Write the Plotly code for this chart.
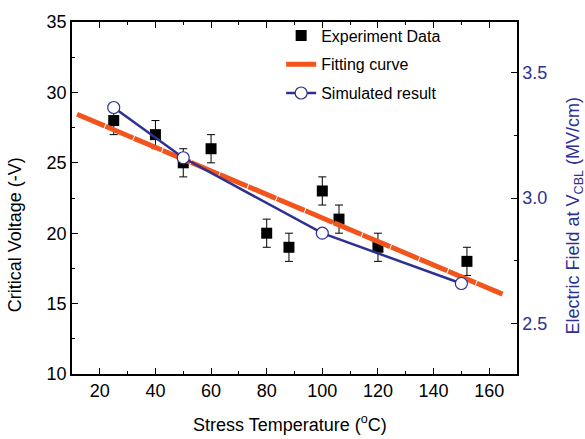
import plotly.graph_objects as go

# experiment data (critical voltage, -V)
exp_temp = [25, 40, 50, 60, 80, 88, 100, 106, 120, 152]
exp_volt = [28, 27, 25, 26, 20, 19, 23, 21, 19, 18]
exp_err = [1, 1, 1, 1, 1, 1, 1, 1, 1, 1]

# fitting curve end points
fit_temp = [11.8, 164.8]
fit_volt = [28.45, 15.67]

# simulated electric field (MV/cm)
sim_temp = [25, 50, 100, 150]
sim_field = [3.36, 3.16, 2.86, 2.66]

orange = "#F2541B"
navy = "#2E3192"
font = "Arial, Liberation Sans, sans-serif"

fig = go.Figure()

fig.add_trace(go.Scatter(x=exp_temp, y=exp_volt, mode="markers", name="Experiment Data",
                         legendgroup="a",
                         marker=dict(symbol="square", size=11, color="black"),
                         error_y=dict(type="data", array=exp_err, color="black",
                                      thickness=1, width=4)))

fig.add_trace(go.Scatter(x=fit_temp, y=fit_volt, mode="lines", name="Fitting curve",
                         legendgroup="b",
                         line=dict(color=orange, width=5, dash="30px,1px")))

fig.add_trace(go.Scatter(x=sim_temp, y=sim_field, mode="lines+markers", name="Simulated result",
                         yaxis="y2", legendgroup="c",
                         line=dict(color=navy, width=2.5),
                         marker=dict(symbol="circle", size=12, color="white",
                                     line=dict(color=navy, width=1.2))))

axis_common = dict(showline=True, linecolor="black", linewidth=1.5, ticks="inside",
                   ticklen=6, tickcolor="black", showgrid=False, zeroline=False)

fig.update_layout(
    width=585, height=439,
    margin=dict(l=72, r=68, t=14, b=65),
    paper_bgcolor="white", plot_bgcolor="white",
    font=dict(family=font, size=18, color="black"),
    showlegend=True,
    legend=dict(x=0.47, y=1.01, xanchor="left", yanchor="top",
                bgcolor="rgba(0,0,0,0)", font=dict(size=16), tracegroupgap=5),
    xaxis=dict(range=[10, 170], dtick=20, tick0=0, mirror="ticks",
               minor=dict(dtick=10, ticks="inside", ticklen=3, tickcolor="black"),
               **axis_common),
    yaxis=dict(range=[10, 35], dtick=5, tick0=0, mirror=False,
               minor=dict(dtick=2.5, ticks="inside", ticklen=3, tickcolor="black"),
               **axis_common),
    yaxis2=dict(range=[2.3, 3.7], dtick=0.5, tick0=0, overlaying="y", side="right",
                tickformat=".1f", tickfont=dict(color=navy),
                minor=dict(dtick=0.25, ticks="inside", ticklen=3, tickcolor="black"),
                **axis_common),
)

fig.add_annotation(text="Stress Temperature (<sup>o</sup>C)", xref="paper", yref="paper",
                   x=0.49, y=-0.142, xanchor="center", yanchor="middle",
                   showarrow=False, font=dict(size=18))
fig.add_annotation(text="Critical Voltage (-V)", xref="paper", yref="paper",
                   x=-0.128, y=0.394, xanchor="center", yanchor="middle", textangle=-90,
                   showarrow=False, font=dict(size=18))
fig.add_annotation(text="Electric Field at V<sub>CBL</sub> (MV/cm)", xref="paper", yref="paper",
                   x=1.13, y=0.45, xanchor="center", yanchor="middle", textangle=-90,
                   showarrow=False, font=dict(size=18, color=navy))

fig.write_html("out.html", config={"displayModeBar": False},
               post_script="document.body.style.margin='0';document.body.style.overflow='hidden';")
